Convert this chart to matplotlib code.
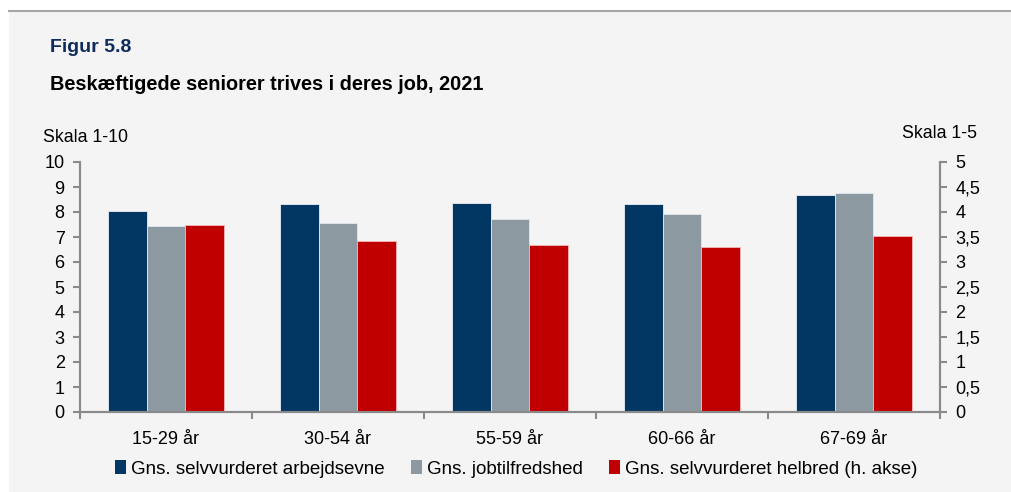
import numpy as np
import matplotlib.pyplot as plt
from matplotlib.patches import Patch, Rectangle
from matplotlib.lines import Line2D

plt.rcParams['font.family'] = ['Liberation Sans', 'DejaVu Sans']

# aldersgrupper og gennemsnit
grupper = ["15-29 år", "30-54 år", "55-59 år", "60-66 år", "67-69 år"]
arbejdsevne = [8.04, 8.31, 8.35, 8.33, 8.67]    # skala 1-10
jobtilfredshed = [7.44, 7.55, 7.72, 7.91, 8.76]  # skala 1-10
helbred = [3.73, 3.42, 3.33, 3.30, 3.52]         # skala 1-5, h. akse

navn = ["Gns. selvvurderet arbejdsevne", "Gns. jobtilfredshed",
        "Gns. selvvurderet helbred (h. akse)"]
farver = ["#023764", "#8C99A1", "#C00000"]
bg = "#F4F4F4"
akse_farve = "#8A8A8A"

fig = plt.figure(figsize=(10.12, 4.92), dpi=100)
fig.patch.set_facecolor("white")
# grå baggrund og streg i toppen (zorder under akserne)
fig.patches.append(Rectangle((9 / 1012, 0), 1 - 9 / 1012, 1 - 10 / 492,
                             transform=fig.transFigure, facecolor=bg,
                             edgecolor="none", zorder=-2))
fig.lines.append(Line2D([9 / 1012, 1], [1 - 10.5 / 492] * 2,
                        transform=fig.transFigure, color="#A6A6A6", lw=1.5,
                        zorder=-1))

ax = fig.add_axes([80 / 1012, 80 / 492, 860 / 1012, 250 / 492])
ax.set_facecolor("none")
ax2 = ax.twinx()

x = np.arange(len(grupper))
w = 0.223
kant = dict(edgecolor="#DDE3EA", linewidth=0.7)
ax.bar(x - w, arbejdsevne, w, color=farver[0], **kant)
ax.bar(x, jobtilfredshed, w, color=farver[1], **kant)
ax2.bar(x + w, helbred, w, color=farver[2], edgecolor="#F0B0B0", linewidth=0.7)

ax.set_xlim(-0.5, len(grupper) - 0.5)
ax.set_ylim(0, 10)
ax2.set_ylim(0, 5)
ax.set_yticks(range(0, 11))
ax2.set_yticks(np.arange(0, 5.01, 0.5))
ax2.set_yticklabels([f"{v:g}".replace(".", ",") for v in np.arange(0, 5.01, 0.5)])

ax.set_xticks(x)
ax.set_xticklabels(grupper)
ax.set_xticks(np.arange(-0.5, len(grupper)), minor=True)
ax.tick_params(axis="x", which="major", length=0, pad=14, labelsize=13)
ax.tick_params(axis="x", which="minor", length=5, width=1.5, color=akse_farve)
ax.tick_params(axis="y", length=5, width=1.5, color=akse_farve, labelsize=13, pad=6)
ax2.tick_params(axis="y", length=5, width=1.5, color=akse_farve, labelsize=13, pad=6)

for a in (ax, ax2):
    a.spines["top"].set_visible(False)
    for s in ("left", "right", "bottom"):
        a.spines[s].set_color(akse_farve)
        a.spines[s].set_linewidth(1.5)

fig.text(50 / 1012, 1 - 47 / 492, "Figur 5.8", color="#0F2B5C",
         fontsize=14, fontweight="bold", va="center")
fig.text(50 / 1012, 1 - 85 / 492, "Beskæftigede seniorer trives i deres job, 2021",
         color="black", fontsize=14.3, fontweight="bold", va="center")
fig.text(43 / 1012, 1 - 138 / 492, "Skala 1-10", fontsize=12.8, va="center")
fig.text(977 / 1012, 1 - 133 / 492, "Skala 1-5", fontsize=12.8, va="center", ha="right")

handles = [Patch(facecolor=c, edgecolor="none") for c in farver]
fig.legend(handles, navn, loc="center", bbox_to_anchor=(0.51, 1 - 469 / 492),
           ncol=3, frameon=False, fontsize=13.5, handlelength=0.6,
           handleheight=0.7, handletextpad=0.25, columnspacing=1.4)

fig.savefig("out.png", dpi=100, facecolor=fig.get_facecolor())
